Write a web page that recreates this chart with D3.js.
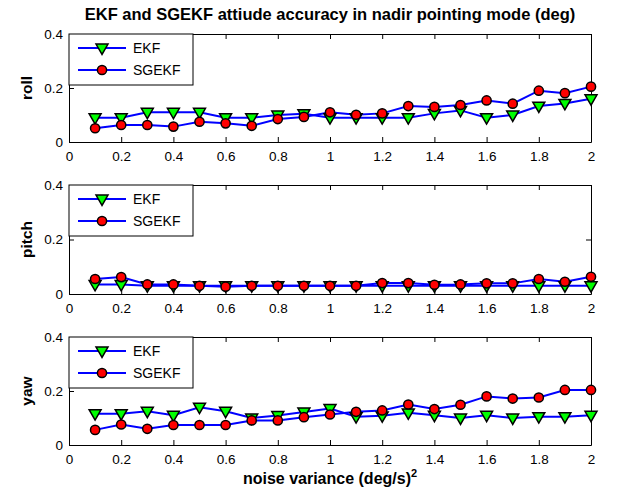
<!DOCTYPE html>
<html><head><meta charset="utf-8">
<script src="https://cdn.jsdelivr.net/npm/d3@7"></script>
<style>body{margin:0;background:#fff}svg{display:block}text{font-family:"Liberation Sans",Arial,Helvetica,sans-serif}</style>
</head><body>
<script>
const noise = [0.1,0.2,0.3,0.4,0.5,0.6,0.7,0.8,0.9,1.0,1.1,1.2,1.3,1.4,1.5,1.6,1.7,1.8,1.9,2.0];
const rollEKF   = [0.09,0.09,0.11,0.11,0.11,0.09,0.09,0.10,0.105,0.09,0.09,0.09,0.09,0.106,0.117,0.09,0.10,0.133,0.143,0.16];
const rollSGEKF = [0.051,0.063,0.063,0.057,0.075,0.069,0.06,0.085,0.093,0.11,0.101,0.106,0.133,0.13,0.137,0.154,0.142,0.19,0.181,0.205];
const pitchEKF   = [0.035,0.035,0.03,0.03,0.03,0.03,0.03,0.03,0.03,0.03,0.03,0.03,0.03,0.03,0.03,0.03,0.03,0.03,0.03,0.03];
const pitchSGEKF = [0.055,0.062,0.035,0.035,0.03,0.027,0.03,0.03,0.03,0.03,0.03,0.04,0.04,0.034,0.035,0.039,0.039,0.055,0.045,0.063];
const yawEKF   = [0.116,0.116,0.125,0.11,0.14,0.125,0.10,0.109,0.122,0.135,0.105,0.108,0.119,0.11,0.10,0.11,0.10,0.105,0.105,0.11];
const yawSGEKF = [0.056,0.076,0.06,0.074,0.074,0.074,0.091,0.091,0.103,0.113,0.123,0.128,0.15,0.133,0.149,0.18,0.172,0.176,0.204,0.204];
const xTicks = [0,0.2,0.4,0.6,0.8,1,1.2,1.4,1.6,1.8,2];
const yTicks = [0,0.2,0.4];
const panelNames = ["roll","pitch","yaw"];
const seriesNames = ["EKF","SGEKF"];
const titleText = "EKF and SGEKF attiude accuracy in nadir pointing mode (deg)";

const W = 633, H = 502;
const svg = d3.select("body").append("svg").attr("width", W).attr("height", H);
const panels = [
  {name: panelNames[0], ekf: rollEKF, sg: rollSGEKF, top: 34, bottom: 142},
  {name: panelNames[1], ekf: pitchEKF, sg: pitchSGEKF, top: 185, bottom: 294},
  {name: panelNames[2], ekf: yawEKF, sg: yawSGEKF, top: 337, bottom: 445}
];
const left = 69, right = 591;
const x = d3.scaleLinear().domain([0,2]).range([left,right]);

svg.append("text").attr("x", 330).attr("y", 20).attr("text-anchor","middle")
  .attr("font-size", 16.5).attr("font-weight","bold").text(titleText);

const tri = d3.symbol().type(d3.symbolTriangle).size(62);

panels.forEach(p => {
  const y = d3.scaleLinear().domain([0,0.4]).range([p.bottom, p.top]);
  const g = svg.append("g");
  const ax = g.append("g").attr("transform",`translate(0,${p.bottom})`)
    .call(d3.axisBottom(x).tickValues(xTicks).tickFormat(d3.format("~g")).tickSizeInner(-5).tickSizeOuter(0).tickPadding(9));
  const axT = g.append("g").attr("transform",`translate(0,${p.top})`)
    .call(d3.axisTop(x).tickValues(xTicks).tickFormat("").tickSizeInner(-5).tickSizeOuter(0));
  const ay = g.append("g").attr("transform",`translate(${left},0)`)
    .call(d3.axisLeft(y).tickValues(yTicks).tickFormat(d3.format("~g")).tickSizeInner(-5).tickSizeOuter(0).tickPadding(6));
  const ayR = g.append("g").attr("transform",`translate(${right},0)`)
    .call(d3.axisRight(y).tickValues(yTicks).tickFormat("").tickSizeInner(-5).tickSizeOuter(0));
  [ax,axT,ay,ayR].forEach(a => {
    a.selectAll("path").attr("stroke","#000").attr("stroke-width",1);
    a.selectAll("line").attr("stroke","#000");
    a.selectAll("text").attr("font-size",13.5).attr("fill","#000")
      .attr("font-family","'Liberation Sans',Arial,sans-serif");
  });
  g.append("text").attr("transform",`translate(32,${(p.top+p.bottom)/2}) rotate(-90)`)
    .attr("text-anchor","middle").attr("font-size",15.5).attr("font-weight","bold").text(p.name);
  const line = d3.line().x((d,i)=>x(noise[i])).y(d=>y(d));
  [p.ekf, p.sg].forEach(s => {
    g.append("path").datum(s).attr("d", line).attr("fill","none")
      .attr("stroke","#0000ff").attr("stroke-width",2);
  });
  g.selectAll(".tri").data(p.ekf).enter().append("path")
    .attr("d", tri).attr("transform",(d,i)=>`translate(${x(noise[i])},${y(d)-0.5}) rotate(180)`)
    .attr("fill","#00ff00").attr("stroke","#000").attr("stroke-width",1.5);
  g.selectAll(".circ").data(p.sg).enter().append("circle")
    .attr("cx",(d,i)=>x(noise[i])).attr("cy", d=>y(d)).attr("r",4.6)
    .attr("fill","#ff0000").attr("stroke","#000").attr("stroke-width",1.5);
  const lg = g.append("g");
  lg.append("rect").attr("x",left).attr("y",p.top).attr("width",124).attr("height",51)
    .attr("fill","#fff").attr("stroke","#000").attr("stroke-width",1);
  const rows = [p.top+14, p.top+36];
  rows.forEach((ry,k) => {
    lg.append("line").attr("x1",78).attr("x2",126).attr("y1",ry).attr("y2",ry)
      .attr("stroke","#0000ff").attr("stroke-width",2);
    if (k===0) {
      lg.append("path").attr("d",tri).attr("transform",`translate(102,${ry-0.5}) rotate(180)`)
        .attr("fill","#00ff00").attr("stroke","#000").attr("stroke-width",1.5);
    } else {
      lg.append("circle").attr("cx",102).attr("cy",ry).attr("r",4.6)
        .attr("fill","#ff0000").attr("stroke","#000").attr("stroke-width",1.5);
    }
    lg.append("text").attr("x",133).attr("y",ry+5).attr("font-size",14).text(seriesNames[k]);
  });
});

const xl = svg.append("text").attr("x",330).attr("y",484).attr("text-anchor","middle")
  .attr("font-size",16).attr("font-weight","bold");
xl.append("tspan").text("noise variance (deg/s)");
xl.append("tspan").attr("dy",-7).attr("font-size",11).text("2");
</script>
</body></html>
